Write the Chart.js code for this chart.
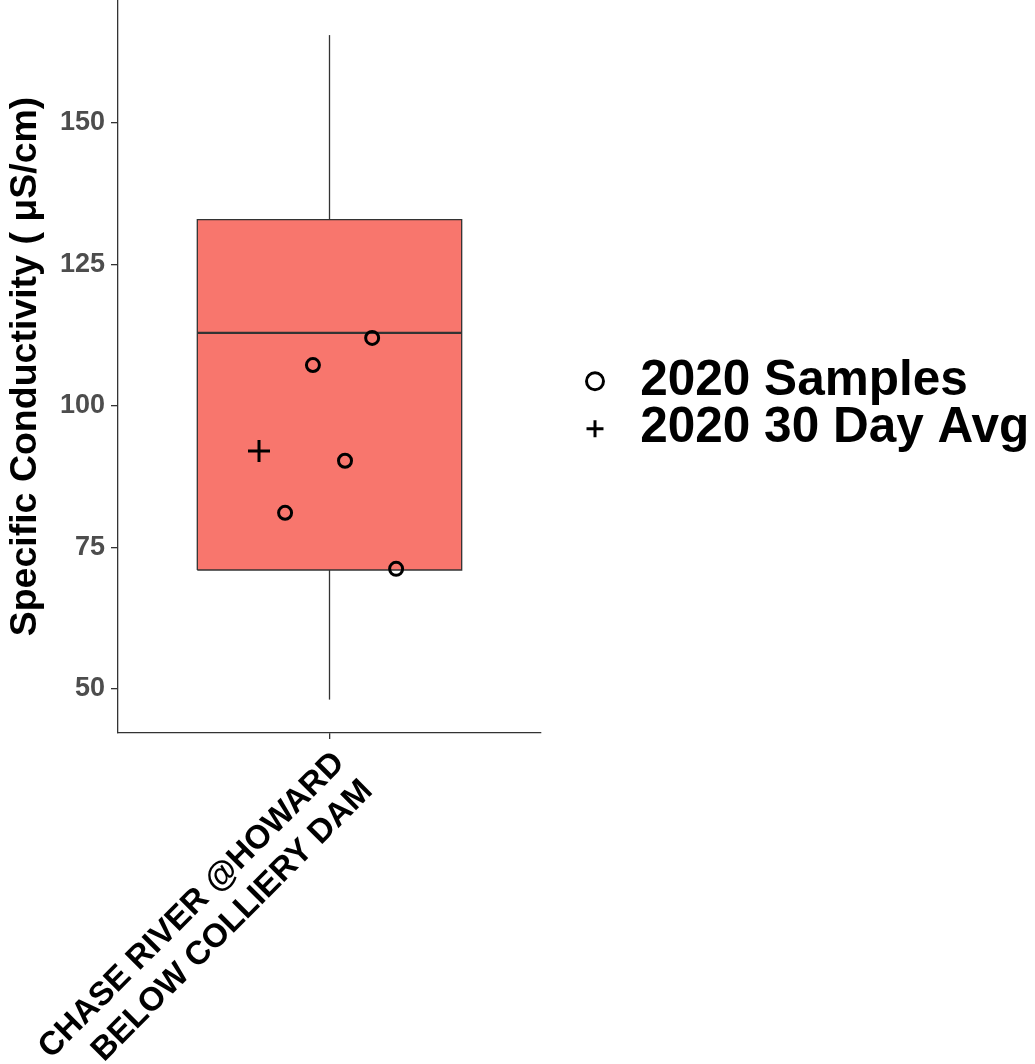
<!DOCTYPE html>
<html>
<head>
<meta charset="utf-8">
<script src="https://cdn.jsdelivr.net/npm/chart.js@4.4.1/dist/chart.umd.min.js"></script>
<style>
  html, body { margin: 0; padding: 0; background: #fff; }
  #wrap { width: 1035px; height: 1064px; }
</style>
</head>
<body>
<div id="wrap"><canvas id="boxChart" width="1035" height="1064"></canvas></div>
<script>
// Site label (two lines) and y ticks
const categoryLines = ['CHASE RIVER @HOWARD', 'BELOW COLLIERY DAM'];
const yTicks = [50, 75, 100, 125, 150];

// Box stats: lower whisker, Q1, median, Q3, upper whisker
const boxStats = [48.1, 71.0, 112.9, 132.9, 165.5];
const boxWidth = 0.75;

// 2020 samples (jittered around x = 1)
const sampleValues = [112.0, 107.2, 90.3, 81.1, 71.2];
const sampleJitter = [1.121, 0.953, 1.044, 0.874, 1.189];

// 2020 30 day average
const avgValues = [92.0];
const avgJitter = [0.800];

const FONT = '"Liberation Sans", Arial, Helvetica, sans-serif';
const EDGE = '#333333';
const GAP = 35.5;           // space between panel and legend
const LEGEND_W = 458.5;     // legend box width (to the right edge)

const [wLo, q1, med, q3, wHi] = boxStats;
const xl = 1 - boxWidth / 2, xr = 1 + boxWidth / 2;

document.addEventListener('DOMContentLoaded', function() {
    const ctx = document.getElementById('boxChart').getContext('2d');
    new Chart(ctx, {
        type: 'scatter',
        data: {
            datasets: [{
                label: '2020 Samples',
                data: sampleValues.map((v, i) => ({x: sampleJitter[i], y: v})),
                pointStyle: 'circle',
                pointRadius: 6.5,
                pointBorderWidth: 3,
                borderColor: '#000',
                backgroundColor: 'rgba(0,0,0,0)'
            }, {
                label: '2020 30 Day Avg',
                data: avgValues.map((v, i) => ({x: avgJitter[i], y: v})),
                pointStyle: 'cross',
                pointRadius: 11,
                pointBorderWidth: 3,
                borderColor: '#000',
                backgroundColor: '#000'
            }, {
                label: 'median',
                data: [{x: xl, y: med}, {x: xr, y: med}],
                showLine: true, pointRadius: 0,
                borderColor: EDGE, borderWidth: 2.2
            }, {
                label: 'upper',
                data: [{x: 1, y: q3}, {x: 1, y: wHi}],
                showLine: true, pointRadius: 0,
                borderColor: EDGE, borderWidth: 1.3
            }, {
                label: 'lower',
                data: [{x: 1, y: wLo}, {x: 1, y: q1}],
                showLine: true, pointRadius: 0,
                borderColor: EDGE, borderWidth: 1.3
            }, {
                label: 'box',
                data: [{x: xl, y: q1}, {x: xr, y: q1}, {x: xr, y: q3}, {x: xl, y: q3}, {x: xl, y: q1}],
                showLine: true, pointRadius: 0,
                borderColor: EDGE, borderWidth: 1.3,
                backgroundColor: '#F8766D',
                fill: 'shape'
            }]
        },
        options: {
            responsive: false,
            animation: false,
            layout: { autoPadding: false, padding: { left: 0, top: 0, right: 0, bottom: 0 } },
            plugins: {
                tooltip: { enabled: false },
                legend: {
                    position: 'right',
                    align: 'start',
                    maxWidth: LEGEND_W,
                    title: { display: true, text: '', font: { size: 10, lineHeight: 1 }, padding: { top: 348.5, bottom: 0 } },
                    labels: {
                        usePointStyle: true,
                        boxWidth: 41,
                        boxHeight: 12,
                        padding: -2,
                        color: '#000',
                        font: { family: FONT, size: 49.5, weight: 'bold' },
                        filter: item => item.datasetIndex < 2
                    }
                }
            },
            scales: {
                x: {
                    type: 'linear',
                    min: 0.4,
                    max: 1.6,
                    afterBuildTicks: axis => { axis.ticks = [{value: 1}]; },
                    afterFit: axis => { axis.height = 331; axis.paddingLeft = 0; axis.paddingRight = 0; },
                    grid: { drawOnChartArea: false, drawTicks: true, tickLength: 6, color: EDGE, lineWidth: 1.3 },
                    border: { display: true, color: EDGE, width: 1.3 },
                    ticks: {
                        autoSkip: false,
                        minRotation: 45,
                        maxRotation: 45,
                        padding: 5,
                        labelOffset: 10,
                        color: '#000',
                        font: { family: FONT, size: 33, weight: 'bold', lineHeight: 1.2 },
                        callback: () => categoryLines
                    }
                },
                y: {
                    min: 42.2,
                    max: 171.7,
                    afterBuildTicks: axis => { axis.ticks = yTicks.map(v => ({value: v})); },
                    afterFit: axis => { axis.width = 118; axis.paddingTop = 0; axis.paddingBottom = 0; },
                    grid: { drawOnChartArea: false, drawTicks: true, tickLength: 7, color: EDGE, lineWidth: 1.3 },
                    border: { display: true, color: EDGE, width: 1.3 },
                    ticks: {
                        padding: 6,
                        color: '#4d4d4d',
                        font: { family: FONT, size: 27, weight: 'bold' }
                    },
                    title: {
                        display: true,
                        text: 'Specific Conductivity ( \u03bcS/cm)',
                        color: '#000',
                        padding: { top: 3, bottom: 0 },
                        font: { family: FONT, size: 37.5, weight: 'bold', lineHeight: 1.2 }
                    }
                },
                gap: {
                    type: 'linear',
                    position: 'right',
                    display: true,
                    afterFit: axis => { axis.width = GAP; axis.paddingTop = 0; axis.paddingBottom = 0; },
                    grid: { display: false },
                    border: { display: false },
                    ticks: { display: false }
                }
            }
        }
    });
});
</script>
</body>
</html>
